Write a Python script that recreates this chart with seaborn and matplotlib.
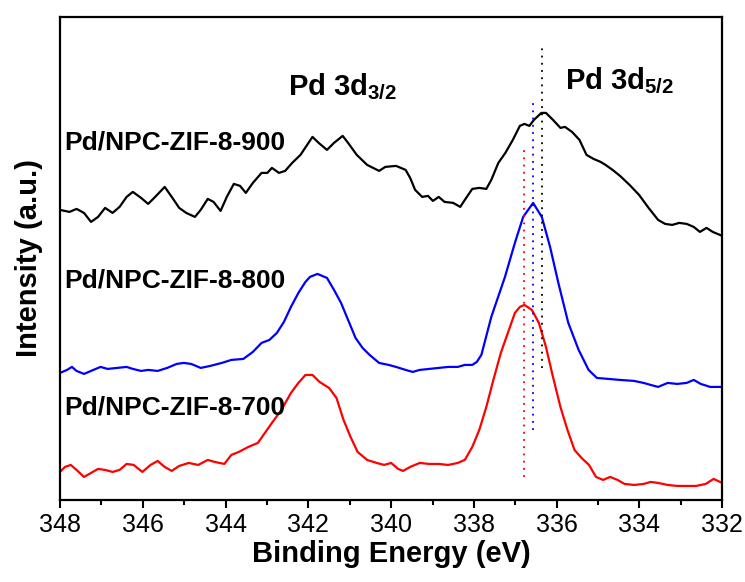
#XPS Pd 3d spectra of Pd/NPC-ZIF-8 samples
import numpy as np
import pandas as pd
import matplotlib
matplotlib.use('Agg')
import matplotlib.pyplot as plt
import seaborn as sns
from matplotlib.ticker import MultipleLocator

#spectra (binding energy in eV, intensity in a.u. with offsets)
be_900 = [348.00, 347.77, 347.60, 347.42, 347.25, 347.08, 346.91, 346.73, 346.56, 346.39,
          346.24, 346.04, 345.87, 345.70, 345.47, 345.30, 345.12, 344.95, 344.74, 344.60,
          344.43, 344.29, 344.12, 343.97, 343.80, 343.65, 343.51, 343.34, 343.13, 342.99,
          342.88, 342.71, 342.56, 342.39, 342.19, 341.90, 341.75, 341.55, 341.38, 341.17,
          341.04, 340.83, 340.58, 340.29, 340.14, 339.88, 339.65, 339.54, 339.42, 339.25,
          339.11, 338.99, 338.85, 338.71, 338.50, 338.33, 338.22, 338.04, 337.87, 337.70,
          337.58, 337.41, 337.24, 337.06, 336.89, 336.78, 336.66, 336.55, 336.37, 336.26,
          336.09, 335.91, 335.80, 335.63, 335.45, 335.28, 335.11, 334.94, 334.82, 334.65,
          334.47, 334.24, 334.01, 333.78, 333.55, 333.38, 333.21, 333.04, 332.86, 332.69,
          332.54, 332.38, 332.23, 332.00]
int_900 = [290, 288, 291, 287, 278, 283, 292, 287, 293, 303,
           308, 302, 296, 303, 313, 303, 292, 287, 283, 290,
           301, 298, 289, 303, 316, 314, 307, 317, 327, 327,
           332, 327, 329, 337, 345, 363, 357, 350, 357, 364,
           357, 345, 335, 329, 333, 334, 330, 322, 310, 303,
           304, 299, 303, 298, 297, 293, 300, 311, 312, 311,
           320, 337, 347, 360, 374, 376, 374, 380, 387, 387,
           380, 372, 373, 368, 360, 345, 341, 338, 335, 330,
           324, 315, 305, 292, 280, 276, 275, 277, 276, 273,
           268, 272, 268, 264]

be_800 = [348.00, 347.83, 347.71, 347.60, 347.42, 347.25, 347.02, 346.85, 346.62, 346.39,
          346.24, 346.04, 345.87, 345.64, 345.41, 345.18, 345.01, 344.83, 344.60, 344.37,
          344.09, 343.86, 343.57, 343.34, 343.13, 342.94, 342.76, 342.59, 342.42, 342.24,
          342.07, 341.96, 341.78, 341.55, 341.38, 341.21, 341.04, 340.86, 340.69, 340.52,
          340.29, 340.06, 339.88, 339.65, 339.48, 339.31, 339.08, 338.85, 338.62, 338.39,
          338.22, 338.04, 337.93, 337.82, 337.58, 337.25, 337.01, 336.81, 336.57, 336.36,
          336.16, 335.96, 335.72, 335.47, 335.23, 335.03, 334.75, 334.47, 334.13, 333.90,
          333.73, 333.55, 333.32, 333.09, 332.86, 332.69, 332.52, 332.29, 332.00]
int_800 = [127, 130, 133, 129, 126, 129, 133, 131, 132, 133,
           131, 129, 130, 129, 132, 136, 137, 136, 132, 134,
           137, 140, 141, 148, 157, 160, 167, 178, 193, 207,
           218, 223, 226, 222, 210, 197, 180, 162, 152, 145,
           137, 135, 133, 130, 128, 130, 131, 132, 133, 133,
           135, 135, 138, 145, 183, 223, 257, 283, 297, 283,
           253, 217, 177, 150, 130, 122, 121, 120, 119, 117,
           115, 113, 117, 116, 117, 120, 116, 113, 113]

be_700 = [348.00, 347.88, 347.74, 347.60, 347.42, 347.25, 347.08, 346.91, 346.73, 346.56,
          346.39, 346.22, 346.01, 345.81, 345.64, 345.47, 345.30, 345.12, 344.89, 344.66,
          344.43, 344.26, 344.03, 343.86, 343.68, 343.45, 343.22, 343.05, 342.88, 342.65,
          342.42, 342.24, 342.07, 341.90, 341.73, 341.50, 341.32, 341.15, 340.98, 340.81,
          340.58, 340.35, 340.17, 340.00, 339.83, 339.71, 339.54, 339.31, 339.08, 338.85,
          338.62, 338.39, 338.22, 338.04, 337.87, 337.70, 337.53, 337.35, 337.18, 337.01,
          336.89, 336.78, 336.60, 336.43, 336.26, 336.09, 335.91, 335.74, 335.57, 335.40,
          335.22, 335.05, 334.88, 334.71, 334.53, 334.36, 334.13, 333.90, 333.73, 333.55,
          333.32, 333.09, 332.86, 332.63, 332.40, 332.21, 332.00]
int_700 = [28, 33, 35, 30, 23, 27, 31, 30, 28, 30,
           36, 35, 28, 35, 39, 33, 29, 34, 37, 35,
           40, 38, 36, 45, 48, 53, 57, 67, 77, 90,
           107, 117, 125, 125, 118, 112, 102, 80, 63, 48,
           40, 37, 35, 37, 31, 29, 33, 37, 36, 36,
           35, 37, 40, 53, 70, 93, 120, 147, 167, 187,
           193, 195, 190, 177, 153, 123, 93, 70, 50, 42,
           35, 23, 20, 23, 20, 16, 15, 16, 18, 17,
           15, 14, 14, 14, 16, 21, 17]

samples = ['Pd/NPC-ZIF-8-900', 'Pd/NPC-ZIF-8-800', 'Pd/NPC-ZIF-8-700']
colors = ['black', '#0000ff', '#ff0000']
label_y = [350, 212, 85]

#peak position markers (eV) and their vertical extent
peak_pos = [336.36, 336.57, 336.78]
peak_top = [457, 397, 350]
peak_bottom = [132, 70, 23]

sns.set_style('ticks')
plt.rcParams['font.family'] = ['Liberation Sans', 'DejaVu Sans']
plt.rcParams['mathtext.fontset'] = 'custom'
plt.rcParams['mathtext.rm'] = 'Liberation Sans'
plt.rcParams['mathtext.bf'] = 'Liberation Sans:bold'
plt.rcParams['axes.edgecolor'] = 'black'
plt.rcParams['axes.labelcolor'] = 'black'
plt.rcParams['text.color'] = 'black'
plt.rcParams['xtick.color'] = 'black'

df = pd.concat([
    pd.DataFrame({'BE': be_900, 'INT': int_900, 'SAMPLE': samples[0]}),
    pd.DataFrame({'BE': be_800, 'INT': int_800, 'SAMPLE': samples[1]}),
    pd.DataFrame({'BE': be_700, 'INT': int_700, 'SAMPLE': samples[2]}),
])

fig = plt.figure(figsize=(7.45, 5.82), dpi=100)
ax = fig.add_axes([0.0805, 0.141, 0.889, 0.830])

sns.lineplot(data=df, x='BE', y='INT', hue='SAMPLE', palette=colors,
             estimator=None, linewidth=1.6, legend=False, ax=ax)

for x, top, bot, c in zip(peak_pos, peak_top, peak_bottom, colors):
    ax.plot([x, x], [bot, top], linestyle=(0, (1, 3)), color=c, linewidth=1.3)

for s, y in zip(samples, label_y):
    ax.text(347.9, y, s, fontsize=19, fontweight='bold', color='black')

ax.text(342.5, 405, r'Pd 3d$_{\mathbf{3/2}}$', fontsize=21, fontweight='bold')
ax.text(335.8, 411, r'Pd 3d$_{\mathbf{5/2}}$', fontsize=21, fontweight='bold')

ax.set_xlim(348, 332)
ax.set_ylim(0, 483)
ax.xaxis.set_major_locator(MultipleLocator(2))
ax.xaxis.set_minor_locator(MultipleLocator(1))
ax.tick_params(axis='x', which='major', direction='out', length=6, width=1.5,
               labelsize=18, color='black', labelcolor='black')
ax.tick_params(axis='x', which='minor', direction='out', length=3.5, width=1.5, color='black')
ax.set_yticks([])
for sp in ax.spines.values():
    sp.set_linewidth(1.6)
    sp.set_color('black')
    sp.set_visible(True)

ax.set_xlabel('Binding Energy (eV)', fontsize=21, fontweight='bold', labelpad=2)
ax.set_ylabel('Intensity (a.u.)', fontsize=21, fontweight='bold', labelpad=12)

fig.savefig('out.png', dpi=100)
